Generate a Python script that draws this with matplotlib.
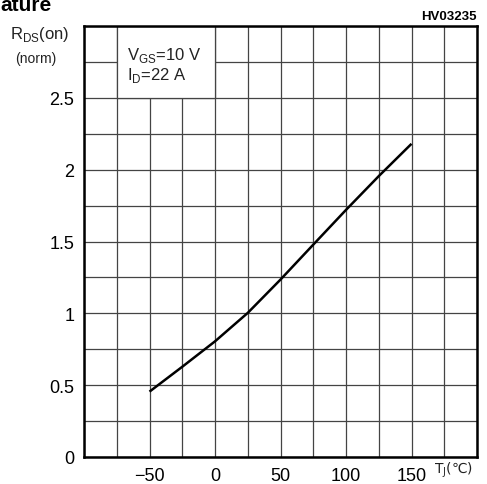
import matplotlib
matplotlib.use("Agg")
import matplotlib.pyplot as plt
from matplotlib.patches import Rectangle
import numpy as np

# normalized on-resistance vs junction temperature
tj = [-50, -25, 0, 25, 50, 75, 100, 125, 150]
rds_norm = [0.455, 0.628, 0.805, 1.003, 1.235, 1.478, 1.72, 1.955, 2.18]

x_ticks = [-50, 0, 50, 100, 150]
y_ticks = [0, 0.5, 1, 1.5, 2, 2.5]
y_labels = ["0", "0.5", "1", "1.5", "2", "2.5"]

plt.rcParams["font.family"] = ["Liberation Sans", "DejaVu Sans"]

fig = plt.figure(figsize=(4.87, 4.85), dpi=100)
ax = fig.add_axes([84 / 487, 27 / 485, 393 / 487, 431 / 485])

ax.set_xlim(-100, 200)
ax.set_ylim(0, 3)
ax.set_xticks(x_ticks)
ax.set_xticks(np.arange(-100, 201, 25), minor=True)
ax.set_yticks(y_ticks)
ax.set_yticklabels(y_labels)
ax.set_yticks(np.arange(0, 3.01, 0.25), minor=True)
ax.tick_params(which="both", length=0, labelsize=13, pad=7)
ax.grid(which="both", color="#444444", lw=0.9)
ax.set_axisbelow(True)
for s in ax.spines.values():
    s.set_linewidth(1.8)

ax.plot(tj, rds_norm, color="black", lw=1.8, solid_capstyle="butt",
        solid_joinstyle="round", zorder=3)

# condition box covering the top-left grid cells
ax.add_patch(Rectangle((-75, 2.5), 75, 0.5, facecolor="white",
                       edgecolor="#444444", lw=0.9, zorder=2))
ax.text(-67, 2.80, r"V$_{\mathregular{GS}}$=10 V", fontsize=12,
        va="center", ha="left", color="#222222", zorder=4)
ax.text(-67, 2.665, r"I$_{\mathregular{D}}$=22 A", fontsize=12,
        va="center", ha="left", color="#222222", zorder=4)

fig.text(10 / 487, 1 - 35 / 485, r"R$_{\mathregular{DS}}$(on)", fontsize=12,
         va="center", ha="left", color="#222222")
fig.text(15 / 487, 1 - 59 / 485, "(norm)", fontsize=10,
         va="center", ha="left", color="#222222")
fig.text(434 / 487, 1 - 470 / 485, r"T$_{\mathregular{J}}$(℃)", fontsize=10,
         va="center", ha="left", color="#222222", family=["DejaVu Sans"])
fig.text(477 / 487, 1 - 17 / 485, "HV03235", fontsize=9.5, fontweight="bold",
         va="center", ha="right")
fig.text(0, 1 - 11 / 485, "ature", fontsize=15, fontweight="bold",
         va="baseline", ha="left")

fig.savefig("out.png", dpi=100)
